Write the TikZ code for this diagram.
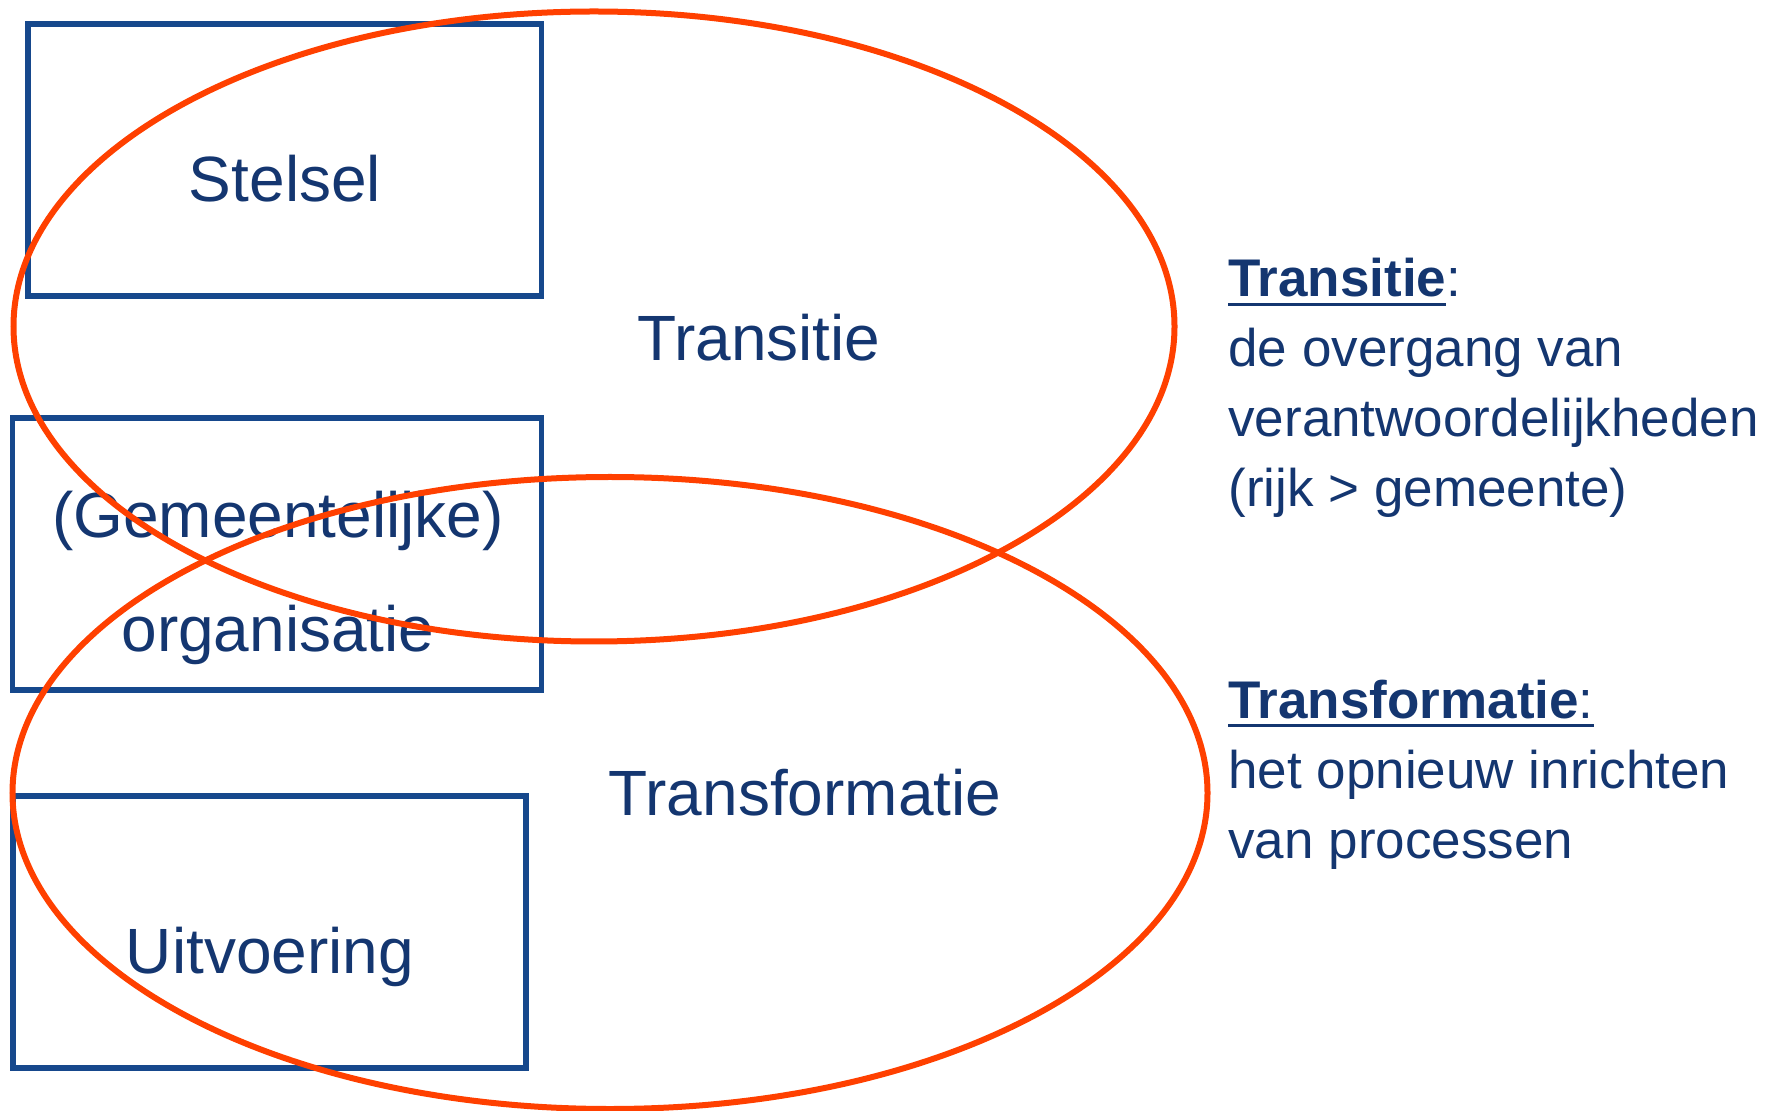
\documentclass[tikz,border=0pt]{standalone}
\usepackage{fontspec}
\setmainfont{Liberation Sans}
\usetikzlibrary{shapes.geometric}

\definecolor{vakblauw}{RGB}{22,72,140}
\definecolor{tekstblauw}{RGB}{20,54,112}
\definecolor{rood}{RGB}{255,64,0}

\newcommand\onderstreept[1]{\leavevmode\vtop{\hbox{#1}\kern2.5pt\hrule height 1.5pt}}

\begin{document}
\begin{tikzpicture}[x=0.5pt,y=-0.5pt,
    vak/.style={draw=vakblauw,line width=2.8pt,inner sep=0pt,minimum height=136pt},
    ovaal/.style={ellipse,draw=rood,line width=3pt,inner sep=0pt},
    woord/.style={anchor=base,text=tekstblauw,inner sep=0pt,font=\fontsize{32}{38}\selectfont},
    uitleg/.style={anchor=base west,align=left,text=tekstblauw,inner sep=0pt,font=\fontsize{26.5}{35}\selectfont}]
        % \draw[help lines] (0,0) grid (1771,1111);
        \useasboundingbox (0,0) rectangle (1771,1111);

        \node[vak,minimum width=256.75pt] at (284.75,160.25) (stelsel) {};
        \node[vak,minimum width=264.5pt] at (277,554) (organisatie) {};
        \node[vak,minimum width=256.6pt] at (269.4,932) (uitvoering) {};

        \node[woord] at (285,202) (stelseltxt) {Stelsel};
        \node[woord] at (278,538) (gemtxt) {(Gemeentelijke)};
        \node[woord] at (278,652) (orgtxt) {organisatie};
        \node[woord] at (270,973) (uitvtxt) {Uitvoering};

        \node[woord] at (759,361) (transtxt) {Transitie};
        \node[woord] at (805,815) (transftxt) {Transformatie};

        \node[ovaal,minimum width=580.5pt,minimum height=315pt] at (594,326.5) (transitie) {};
        \node[ovaal,minimum width=597.5pt,minimum height=316pt] at (610,793) (transformatie) {};

        % base anchor sits on the last line
        \node[uitleg] at (1228,507) (transuitleg)
            {\onderstreept{\textbf{Transitie}}:\\de overgang van\\verantwoordelijkheden\\(rijk > gemeente)};
        \node[uitleg] at (1228,858) (transfuitleg)
            {\onderstreept{\textbf{Transformatie}:}\\het opnieuw inrichten\\van processen};

    \end{tikzpicture}
\end{document}
